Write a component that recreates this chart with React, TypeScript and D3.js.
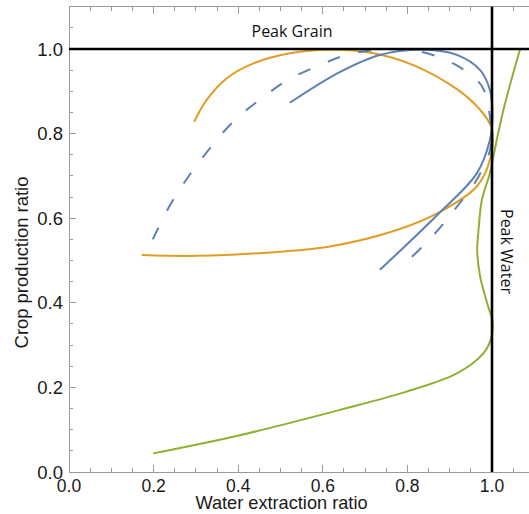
import React from "react";
import * as d3 from "d3";

type P = [number, number];

const greenCurve: P[] = [
  [0.199, 0.044], [0.404, 0.087], [0.641, 0.147], [0.798, 0.19], [0.917, 0.233],
  [0.98, 0.281], [0.999, 0.32], [1.001, 0.359], [0.991, 0.391], [0.972, 0.462],
  [0.965, 0.525], [0.968, 0.57], [0.976, 0.643], [0.995, 0.706], [1.003, 0.745],
  [1.027, 0.856], [1.066, 0.998],
];

const orangeCurve: P[] = [
  [0.296, 0.828], [0.325, 0.879], [0.373, 0.931], [0.436, 0.966], [0.522, 0.99],
  [0.617, 0.998], [0.72, 0.99], [0.814, 0.962], [0.917, 0.905], [0.972, 0.856],
  [0.999, 0.813], [0.995, 0.738], [0.964, 0.675], [0.877, 0.615], [0.775, 0.572],
  [0.617, 0.533], [0.459, 0.518], [0.302, 0.511], [0.172, 0.513],
];

const blueSolid: P[] = [
  [0.522, 0.873], [0.641, 0.946], [0.735, 0.986], [0.838, 0.998], [0.917, 0.986],
  [0.972, 0.95], [0.995, 0.903], [1.001, 0.84], [0.995, 0.785], [0.964, 0.706],
  [0.873, 0.61], [0.735, 0.478],
];

const blueDashed: P[] = [
  [0.198, 0.55], [0.239, 0.631], [0.282, 0.698], [0.333, 0.765], [0.388, 0.828],
  [0.452, 0.881], [0.518, 0.927], [0.593, 0.962], [0.664, 0.988], [0.75, 0.999],
  [0.83, 0.994], [0.908, 0.966], [0.964, 0.927], [0.981, 0.903], [0.995, 0.84],
  [0.997, 0.769], [0.968, 0.698], [0.913, 0.622], [0.858, 0.556], [0.787, 0.486],
];

const majorTicks = [0, 0.2, 0.4, 0.6, 0.8, 1.0];
const minorTicks = [
  0.05, 0.1, 0.15, 0.25, 0.3, 0.35, 0.45, 0.5, 0.55, 0.65, 0.7, 0.75, 0.85, 0.9,
  0.95, 1.05,
];
const tickLabels = ["0.0", "0.2", "0.4", "0.6", "0.8", "1.0"];

const peakGrain = 1.0;
const peakWater = 1.0;

const W = 529;
const H = 514;

export default function App() {
  const x = d3.scaleLinear().domain([0, 1.1]).range([69, 534.3]);
  const y = d3.scaleLinear().domain([0, 1.1]).range([472, 6.7]);
  const line = d3
    .line<P>()
    .x((d) => x(d[0]))
    .y((d) => y(d[1]))
    .curve(d3.curveCatmullRom.alpha(0.5));

  const axisColor = "#9a9a9a";
  const x0 = x(0);
  const y0 = y(0);
  const yTop = y(1.1);
  const xRight = x(1.1);

  return (
    <svg
      width={W}
      height={H}
      style={{ position: "absolute", left: 0, top: 0, background: "#fff" }}
    >
      <rect x={0} y={0} width={W} height={H} fill="#fff" />
      {/* frame */}
      <g stroke={axisColor} strokeWidth={1} fill="none" shapeRendering="crispEdges">
        <line x1={x0} x2={xRight} y1={y0 + 0.5} y2={y0 + 0.5} />
        <line x1={x0 + 0.5} x2={x0 + 0.5} y1={yTop} y2={y0} />
        <line x1={x0} x2={xRight} y1={yTop} y2={yTop} />
        {majorTicks.map((t) => (
          <g key={"M" + t}>
            <line x1={x(t)} x2={x(t)} y1={y0} y2={y0 - 7} />
            <line x1={x(t)} x2={x(t)} y1={yTop} y2={yTop + 7} />
            <line x1={x0} x2={x0 + 7} y1={y(t)} y2={y(t)} />
          </g>
        ))}
        {minorTicks.map((t) => (
          <g key={"m" + t}>
            <line x1={x(t)} x2={x(t)} y1={y0} y2={y0 - 4} />
            <line x1={x(t)} x2={x(t)} y1={yTop} y2={yTop + 4} />
            <line x1={x0} x2={x0 + 4} y1={y(t)} y2={y(t)} />
          </g>
        ))}
      </g>
      {/* tick labels */}
      <g fontFamily="'Liberation Sans', Arial, sans-serif" fill="#1a1a1a">
        {majorTicks.map((t, i) => (
          <text key={"xl" + t} x={x(t)} y={491.5} fontSize={17.5} textAnchor="middle">
            {tickLabels[i]}
          </text>
        ))}
        {majorTicks.map((t, i) => (
          <text
            key={"yl" + t}
            x={63}
            y={y(t)}
            dy="0.36em"
            fontSize={18.5}
            textAnchor="end"
          >
            {tickLabels[i]}
          </text>
        ))}
        <text x={281.5} y={508.5} fontSize={18.2} textAnchor="middle">
          Water extraction ratio
        </text>
        <text
          transform={`translate(28.2, 262.5) rotate(-90)`}
          fontSize={18.4}
          textAnchor="middle"
        >
          Crop production ratio
        </text>
      </g>
      {/* curves */}
      <g fill="none" strokeWidth={2} strokeLinecap="butt">
        <path d={line(greenCurve) || ""} stroke="#8FB032" />
        <path d={line(orangeCurve) || ""} stroke="#E19C24" />
        <path d={line(blueSolid) || ""} stroke="#5E81B5" />
        <path d={line(blueDashed) || ""} stroke="#5E81B5" strokeDasharray="13,19" />
      </g>
      {/* peak lines */}
      <g stroke="#000" strokeWidth={2.6}>
        <line x1={x0} x2={W} y1={y(peakGrain)} y2={y(peakGrain)} />
        <line x1={x(peakWater)} x2={x(peakWater)} y1={yTop} y2={y0} />
      </g>
      <g fontFamily="'Open Sans', 'Noto Sans', sans-serif" fill="#111" fontSize={16}>
        <text x={292} y={37} textAnchor="middle">
          Peak Grain
        </text>
        <text transform={`translate(501, 209) rotate(90)`}>Peak Water</text>
      </g>
    </svg>
  );
}
